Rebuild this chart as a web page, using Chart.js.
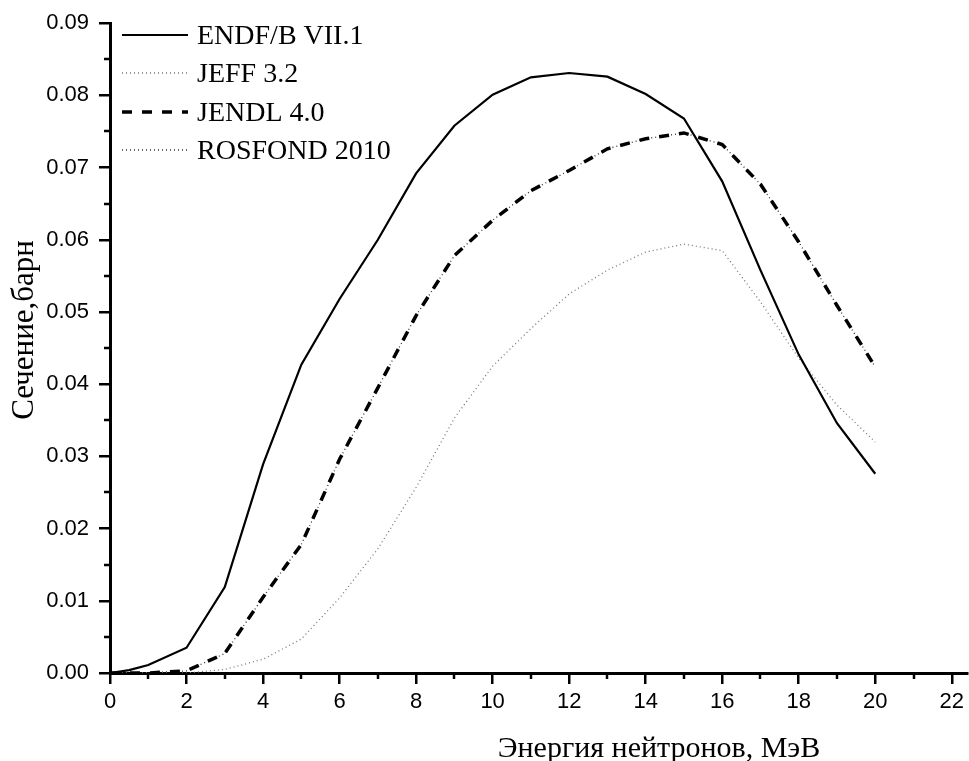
<!DOCTYPE html>
<html>
<head>
<meta charset="utf-8">
<script src="https://cdn.jsdelivr.net/npm/chart.js@4.4.1/dist/chart.umd.min.js"></script>
<style>
  html, body { margin: 0; padding: 0; background: #fff; }
  #wrap { width: 969px; height: 761px; position: relative; }
</style>
</head>
<body>
<div id="wrap"><canvas id="c" width="969" height="761"></canvas></div>
<script>
// ---- Data ----
const energyEndf  = [0, 0.5, 1, 2, 3, 4, 5, 6, 7, 8, 9, 10, 11, 12, 13, 14, 15, 16, 17, 18, 19, 20];
const endfValues  = [0, 0.0004, 0.0011, 0.0035, 0.0119, 0.0289, 0.0427, 0.0518, 0.0600, 0.0692, 0.0758, 0.0801, 0.0825, 0.0831, 0.0826, 0.0802, 0.0768, 0.0681, 0.0558, 0.0441, 0.0346, 0.0276];

const energy      = [0, 1, 2, 3, 4, 5, 6, 7, 8, 9, 10, 11, 12, 13, 14, 15, 16, 17, 18, 19, 20];
const jeffValues  = [0, 0, 0, 0.0005, 0.0019, 0.0047, 0.0104, 0.0172, 0.0257, 0.0353, 0.0425, 0.0477, 0.0525, 0.0558, 0.0583, 0.0594, 0.0585, 0.0514, 0.0436, 0.0371, 0.0320];
const jendlValues = [0, 0, 0.0003, 0.0027, 0.0105, 0.0178, 0.0296, 0.0395, 0.0495, 0.0578, 0.0627, 0.0668, 0.0696, 0.0726, 0.0740, 0.0748, 0.0732, 0.0677, 0.0597, 0.0509, 0.0424];
const rosfondValues = [0, 0, 0.0003, 0.0027, 0.0105, 0.0178, 0.0296, 0.0395, 0.0495, 0.0578, 0.0627, 0.0668, 0.0696, 0.0726, 0.0740, 0.0748, 0.0732, 0.0677, 0.0597, 0.0509, 0.0424];

const seriesNames = ['ENDF/B VII.1', 'JEFF 3.2', 'JENDL 4.0', 'ROSFOND 2010'];
const xTitle = 'Энергия нейтронов, МэВ';
const yTitle = 'Сечение,барн';
const xMinorTicks = [1, 3, 5, 7, 9, 11, 13, 15, 17, 19, 21];
const yMinorTicks = [0.005, 0.015, 0.025, 0.035, 0.045, 0.055, 0.065, 0.075, 0.085];

function pts(xs, ys) { return xs.map((x, i) => ({ x: x, y: ys[i] })); }

const serif = '"Liberation Serif", "Times New Roman", serif';
const sans = '"Liberation Sans", Arial, sans-serif';

const datasets = [
  { label: seriesNames[3], data: pts(energy, rosfondValues), borderColor: '#333', borderWidth: 1.3, borderDash: [1, 3], order: 3 },
  { label: seriesNames[1], data: pts(energy, jeffValues), borderColor: '#777', borderWidth: 1.3, borderDash: [1, 3], order: 2 },
  { label: seriesNames[2], data: pts(energy, jendlValues), borderColor: '#000', borderWidth: 3.5, borderDash: [10, 10], order: 1 },
  { label: seriesNames[0], data: pts(energyEndf, endfValues), borderColor: '#000', borderWidth: 2.2, order: 0 }
];
datasets.forEach(d => { d.pointRadius = 0; d.tension = 0; d.fill = false; d.borderCapStyle = 'butt'; });

const legendOrder = [3, 1, 2, 0]; // indexes into datasets: ENDF, JEFF, JENDL, ROSFOND

const extras = {
  id: 'extras',
  afterDraw(chart) {
    const ctx = chart.ctx;
    const xs = chart.scales.x, ys = chart.scales.y;
    const area = chart.chartArea;
    ctx.save();
    // minor ticks
    ctx.strokeStyle = '#000';
    ctx.lineWidth = 2.5;
    xMinorTicks.forEach(v => {
      const px = Math.round(xs.getPixelForValue(v));
      ctx.beginPath(); ctx.moveTo(px, area.bottom); ctx.lineTo(px, area.bottom + 6); ctx.stroke();
    });
    yMinorTicks.forEach(v => {
      const py = Math.round(ys.getPixelForValue(v));
      ctx.beginPath(); ctx.moveTo(area.left - 6, py); ctx.lineTo(area.left, py); ctx.stroke();
    });
    // legend
    const lx0 = 122, lx1 = 188, tx = 197;
    const rowY = [35, 73, 112, 150];
    ctx.font = '28px ' + serif;
    ctx.textBaseline = 'alphabetic';
    ctx.textAlign = 'left';
    legendOrder.forEach((di, i) => {
      const d = datasets[di];
      ctx.save();
      ctx.strokeStyle = d.borderColor;
      ctx.lineWidth = d.borderWidth;
      ctx.setLineDash(d.borderDash || []);
      ctx.beginPath(); ctx.moveTo(lx0, rowY[i]); ctx.lineTo(lx1, rowY[i]); ctx.stroke();
      ctx.restore();
      ctx.fillStyle = '#000';
      ctx.fillText(d.label, tx, rowY[i] + 9);
    });
    // axis titles
    ctx.fillStyle = '#000';
    ctx.textAlign = 'center';
    ctx.textBaseline = 'alphabetic';
    ctx.font = '30px ' + serif;
    ctx.fillText(xTitle, 659, 757);
    ctx.save();
    ctx.font = '31px ' + serif;
    ctx.translate(33, 330);
    ctx.rotate(-Math.PI / 2);
    ctx.fillText(yTitle, 0, 0);
    ctx.restore();
    ctx.restore();
  }
};

new Chart(document.getElementById('c'), {
  type: 'line',
  data: { datasets: datasets },
  plugins: [extras],
  options: {
    responsive: false,
    animation: false,
    layout: { padding: { top: 20, right: 0, left: 0, bottom: 0 } },
    plugins: { legend: { display: false }, tooltip: { enabled: false } },
    scales: {
      x: {
        type: 'linear', min: 0, max: 22.4,
        afterFit(s) { s.height = 88; },
        border: { display: true, color: '#000', width: 3 },
        grid: { display: true, drawOnChartArea: false, drawTicks: true, tickLength: 11, color: '#000', lineWidth: 2.5 },
        ticks: { stepSize: 2, includeBounds: false, color: '#000', padding: 5, maxRotation: 0, autoSkip: false,
                 font: { family: sans, size: 22 } }
      },
      y: {
        type: 'linear', min: 0, max: 0.09,
        afterFit(s) { s.width = 110; },
        border: { display: true, color: '#000', width: 3 },
        grid: { display: true, drawOnChartArea: false, drawTicks: true, tickLength: 11, color: '#000', lineWidth: 2.5 },
        ticks: { stepSize: 0.01, color: '#000', padding: 10, autoSkip: false,
                 callback: v => Number(v).toFixed(2),
                 font: { family: sans, size: 22 } }
      }
    }
  }
});
</script>
</body>
</html>
